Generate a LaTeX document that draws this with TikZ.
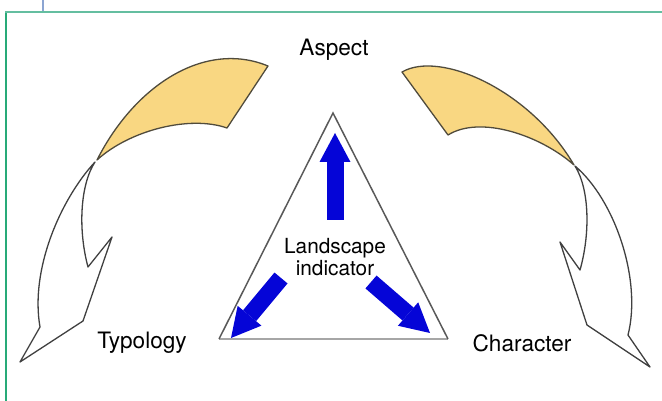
\documentclass[tikz,border=0pt]{standalone}
\usepackage{fontspec}
\setmainfont{TeX Gyre Heros}
\usepackage{xcolor}
\usetikzlibrary{arrows.meta,positioning,calc}
\definecolor{frameline}{RGB}{100,190,160}
\definecolor{frameside}{RGB}{40,170,120}
\definecolor{tabline}{RGB}{140,165,210}
\definecolor{bandyellow}{RGB}{249,215,130}
\definecolor{bandline}{RGB}{80,75,60}
\definecolor{indblue}{RGB}{5,5,215}
\tikzset{
  lbl/.style={font=\fontsize{22.6}{26}\selectfont,inner sep=1pt},
  inlbl/.style={font=\fontsize{20.8}{22}\selectfont,align=center,inner sep=1pt},
  backband/.style={fill=bandyellow,draw=bandline,line width=1.3pt,line join=round},
  frontband/.style={fill=white,draw=black!75,line width=1.3pt,line join=round},
  indarrow/.style={-{Triangle[width=31pt,length=29pt,line width=0pt]},line width=17pt,draw=indblue},
  triside/.style={draw=black!65,line width=1.5pt},
  tribase/.style={draw=black!35,line width=2.8pt}
}

\begin{document}
\begin{tikzpicture}[x=1pt,y=-1pt]
  \useasboundingbox (0,0) rectangle (662,401);
  % frame
  \draw[tabline,line width=2.4pt] (43,0) -- (43,12);
  \draw[frameside,line width=2pt] (6,401) -- (6,12);
  \draw[frameline,line width=2pt] (5,12) -- (662,12);
  % triangle corners
  \coordinate (top) at (333,113);
  \coordinate (bl) at (219,339);
  \coordinate (br) at (448,339);
  \draw[tribase] (bl) -- (br);
  \draw[triside] (bl) -- (top) -- (br);
  % left loop
  \draw[backband] (97,160) .. controls (135,85) and (205,40) .. (268,66)
    -- (227,128) .. controls (190,115) and (130,130) .. cycle;
  \draw[frontband] (95,162) .. controls (60,200) and (30,270) .. (40,327)
    -- (20,362) -- (83,321) -- (112,237) -- (88,267)
    .. controls (78,230) and (80,185) .. cycle;
  % right loop
  \draw[backband] (402,72) .. controls (440,50) and (530,90) .. (574,165)
    .. controls (540,135) and (480,115) .. (448,135) -- cycle;
  \draw[frontband] (575,166) .. controls (615,200) and (642,280) .. (628,335)
    -- (650,367) -- (587,325) -- (560,242) -- (580,270)
    .. controls (590,235) and (590,190) .. cycle;
  % labels
  \node[lbl] (asp) at (334,50) {Aspect};
  \node[lbl] (typ) at (142,343) {Typology};
  \node[lbl] (chr) at (522,343) {Character};
  \node[inlbl] (ind) at (335,257) {Landscape\\indicator};
  % blue arrows
  \coordinate (upfrom) at (335,220);
  \coordinate (upto) at (335,133);
  \coordinate (lfrom) at (281,278);
  \coordinate (lto) at (231,338);
  \coordinate (rfrom) at (371,282);
  \coordinate (rto) at (430,333);
  \draw[indarrow] (upfrom) -- (upto);
  \draw[indarrow] (lfrom) -- (lto);
  \draw[indarrow] (rfrom) -- (rto);
\end{tikzpicture}
\end{document}
